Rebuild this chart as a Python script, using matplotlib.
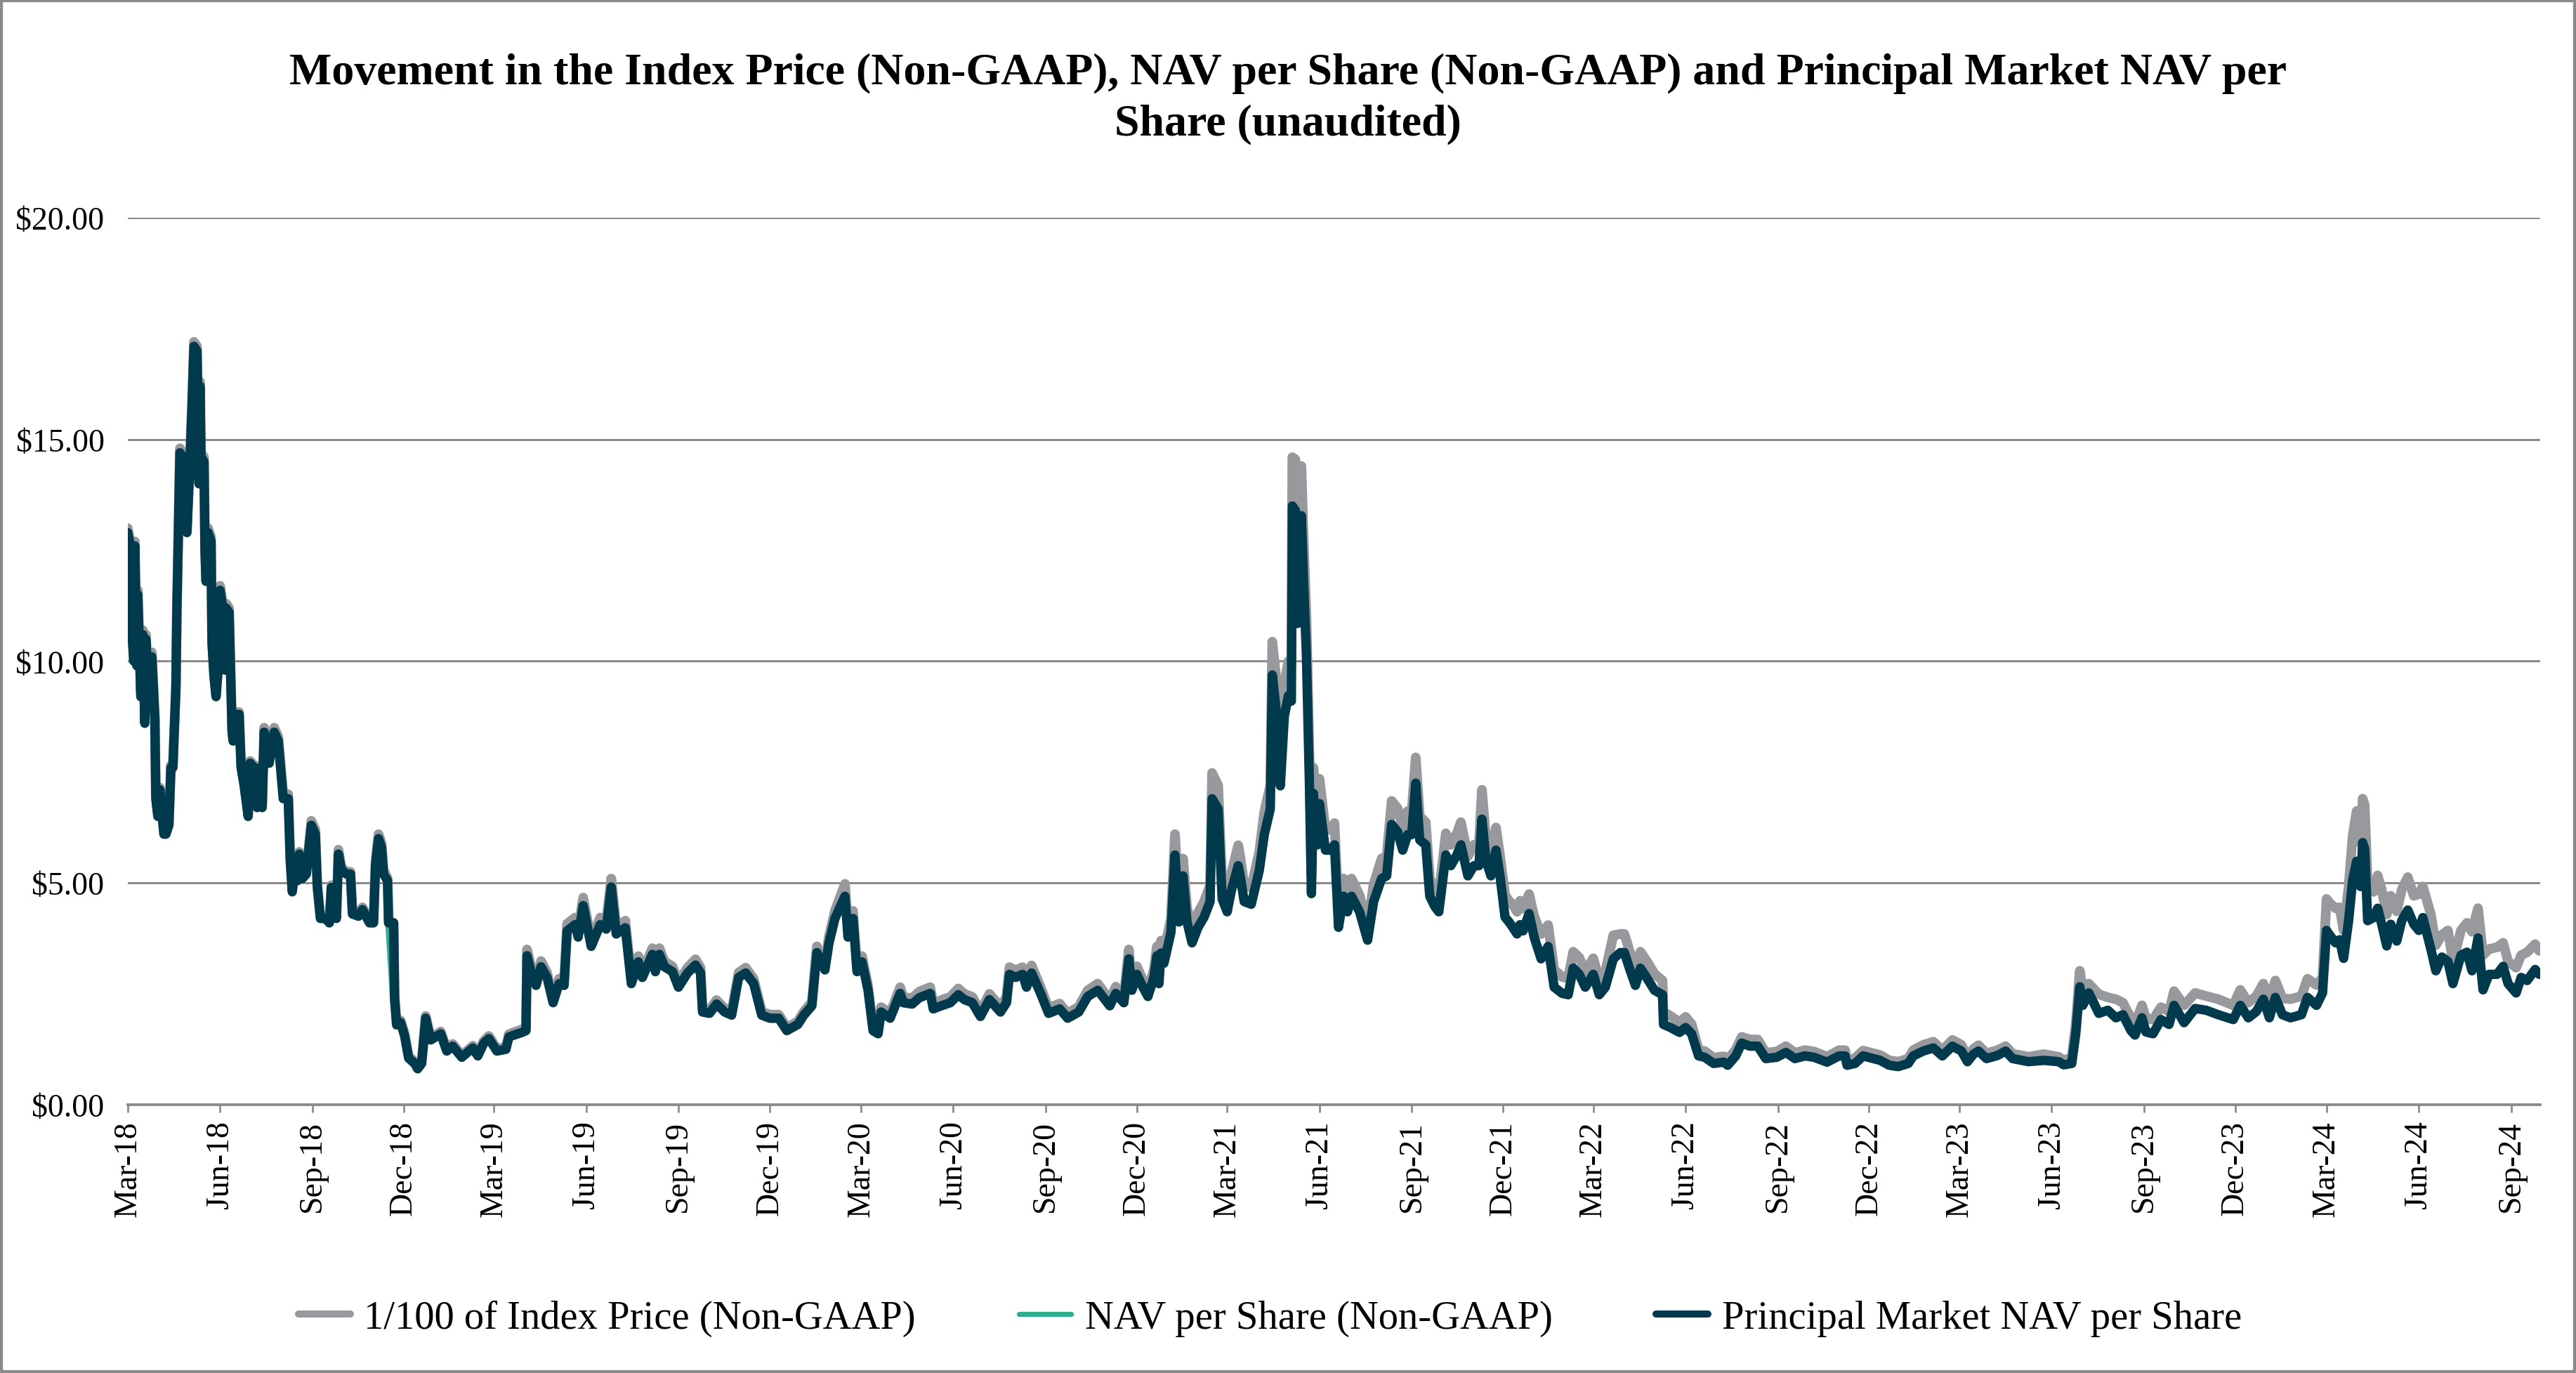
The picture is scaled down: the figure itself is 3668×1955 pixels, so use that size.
import matplotlib
matplotlib.use("Agg")
import matplotlib.pyplot as plt
import matplotlib.dates as mdates
from matplotlib.patches import Rectangle
import pandas as pd

plt.rcParams['font.family'] = ['Liberation Serif', 'DejaVu Serif']

START = "2018-03-01"

# days since START, principal market NAV per share, 1/100 of index price
days = [0, 3, 4, 6, 7, 9, 10, 13, 15, 17, 18, 21, 22, 24, 27, 28, 30, 32, 36, 38,
        41, 43, 45, 48, 49, 52, 55, 57, 59, 62, 64, 66, 69, 70, 71, 72, 73, 76, 77, 78,
        80, 83, 84, 86, 88, 90, 92, 94, 97, 98, 101, 104, 105, 107, 111, 113, 116, 120, 122, 126,
        129, 132, 134, 136, 141, 146, 150, 155, 160, 162, 164, 167, 169, 171, 174, 178, 183, 187, 189, 192,
        197, 201, 203, 208, 210, 213, 218, 222, 224, 230, 234, 241, 245, 247, 250, 253, 255, 259, 260, 265,
        266, 268, 272, 276, 280, 286, 289, 293,
        297, 302, 312, 318, 324, 333, 344, 349, 355, 360, 368, 377, 380, 393, 397, 398, 402, 407, 412, 418,
        424, 430, 435, 438, 446, 449, 454, 462, 471, 477, 482, 487, 496, 502, 509, 513, 523, 526, 530, 535,
        543, 549, 558, 566, 571, 573, 580, 587, 595, 602, 609, 616, 624, 632, 640, 649, 657, 668, 674, 682,
        687, 695, 699, 705, 715, 718, 723, 727, 732, 738, 743,
        748, 751, 760, 765, 770, 773, 782, 789, 800, 803, 811, 820, 828, 834, 842, 850, 859, 870, 876, 879,
        885, 892, 896, 901, 910, 918, 929, 937, 948, 957, 967, 979, 985, 993, 998, 1001, 1006, 1012, 1017, 1023,
        1026,
        1028, 1030, 1033, 1040, 1044, 1048, 1052, 1056, 1061, 1067, 1073, 1079, 1081, 1087, 1091, 1096, 1100, 1107, 1109, 1113,
        1120, 1128, 1133, 1139, 1141, 1145, 1149, 1153, 1157, 1160, 1161, 1164, 1166, 1170, 1172, 1175, 1178, 1180, 1182, 1186,
        1188, 1194, 1199, 1203, 1207, 1212, 1216, 1220, 1228, 1236, 1242, 1250, 1255, 1260, 1266, 1271, 1276, 1280, 1284, 1288,
        1294, 1298, 1303, 1307, 1314, 1319, 1325, 1329, 1336, 1342, 1347, 1350, 1354, 1359, 1364, 1368, 1373, 1377,
        1381, 1385, 1388, 1391, 1397, 1402, 1409, 1416, 1422, 1430, 1436, 1441, 1447, 1453, 1461, 1467, 1473, 1481, 1488, 1492,
        1497, 1503, 1508, 1516, 1522, 1530, 1531, 1538, 1547, 1553, 1559, 1566, 1572, 1581, 1591, 1595, 1603, 1609, 1617, 1625,
        1633, 1644, 1653, 1662, 1672, 1681, 1694, 1706, 1712, 1714, 1722, 1730, 1747, 1756, 1765, 1775, 1780, 1790, 1800, 1809,
        1819, 1828,
        1834, 1840, 1845, 1853, 1864, 1872, 1879, 1895, 1910, 1925, 1930, 1938, 1942, 1946, 1949, 1955, 1965, 1974, 1982, 1989,
        1997, 2001, 2008, 2012, 2019, 2027, 2035, 2040, 2050, 2061, 2072, 2084, 2099, 2106, 2114, 2122, 2129, 2135, 2141, 2148,
        2156, 2167, 2173, 2182, 2188, 2192, 2195, 2201, 2205, 2209, 2214, 2218, 2222, 2226, 2228, 2230, 2233, 2239, 2243, 2247,
        2252, 2256, 2262, 2267, 2273, 2279, 2284, 2288, 2296, 2301, 2307, 2313, 2318, 2326, 2332, 2337, 2343, 2348, 2354, 2362,
        2368, 2373, 2381, 2386, 2392, 2400, 2404]

principal = [12.9, 12.55, 10.7, 10.0, 12.6, 9.9, 11.5, 9.2, 10.6, 8.6, 10.5, 9.3, 9.6, 10.1, 8.7, 6.9, 6.5, 7.1, 6.1, 6.1,
             6.3, 7.6, 7.6, 9.4, 11.2, 14.7, 14.6, 13.0, 12.9, 14.5, 15.7, 17.1, 17.0, 15.7, 14.0, 16.2, 14.6, 14.5, 12.5, 11.8,
             12.9, 12.7, 10.4, 9.65, 9.2, 9.8, 11.6, 11.3, 9.8, 11.2, 11.1, 8.4, 8.2, 8.8, 8.8, 7.6, 7.2, 6.5, 7.7, 7.6,
             6.7, 7.6, 6.7, 8.4, 7.7, 8.4, 8.2, 6.9, 6.9, 5.5, 4.8, 5.5, 5.05, 5.65, 5.1, 5.2, 6.3, 6.1, 4.9, 4.2,
             4.2, 4.1, 4.9, 4.2, 5.65, 5.3, 5.2, 5.2, 4.3, 4.25, 4.4, 4.1, 4.1, 5.4, 6.0, 5.8, 5.2, 5.05, 4.1, 4.1,
             2.4, 1.8, 1.85, 1.55, 1.05, 0.93, 0.81, 0.93,
             1.95, 1.46, 1.6, 1.21, 1.32, 1.07, 1.28, 1.1, 1.39, 1.49, 1.21, 1.25, 1.53, 1.63, 1.67, 3.36, 3.0, 2.69, 3.11, 2.87,
             2.3, 2.73, 2.69, 3.92, 4.06, 3.78, 4.49, 3.57, 4.06, 3.96, 4.91, 3.85, 3.99, 2.73, 3.22, 2.87, 3.39, 3.0, 3.39, 3.11,
             3.0, 2.65, 2.97, 3.15, 2.97, 2.09, 2.06, 2.27, 2.09, 2.02, 2.87, 2.97, 2.73, 2.02, 1.95, 1.95, 1.67, 1.81, 2.02, 2.23,
             3.43, 3.04, 3.64, 4.2, 4.7, 3.78, 4.2, 3.0, 3.22, 2.58, 1.67,
             1.6, 2.09, 1.95, 2.23, 2.51, 2.3, 2.27, 2.41, 2.51, 2.16, 2.23, 2.3, 2.48, 2.37, 2.3, 1.99, 2.37, 2.09, 2.3, 2.94,
             2.87, 2.94, 2.65, 2.97, 2.51, 2.06, 2.16, 1.95, 2.09, 2.44, 2.58, 2.23, 2.51, 2.3, 3.29, 2.58, 2.94, 2.65, 2.44, 2.87,
             3.36,
             2.73, 3.42, 3.19, 3.89, 5.63, 4.12, 5.16, 4.12, 3.65, 4.0, 4.23, 4.58, 6.9, 6.67, 4.64, 4.35, 4.81, 5.39, 5.16, 4.58,
             4.52, 5.28, 6.09, 6.67, 9.69, 8.87, 7.19, 8.76, 9.22, 9.1, 13.5, 13.4, 10.85, 13.28, 11.9, 10.15, 7.25, 4.76, 7.02, 5.86,
             6.79, 5.74, 5.74, 5.86, 4.0, 4.7, 4.35, 4.7, 4.35, 3.71, 4.58, 5.1, 5.16, 6.32, 6.15, 5.74, 6.09, 6.09, 7.25, 5.97,
             5.86, 4.7, 4.47, 4.35, 5.63, 5.39, 5.63, 5.86, 5.16, 5.39, 5.39, 6.44, 5.51, 5.16, 5.74, 5.16, 4.23, 4.12,
             3.99, 3.85, 4.06, 3.92, 4.31, 3.78, 3.29, 3.57, 2.65, 2.51, 2.48, 3.08, 2.94, 2.65, 2.94, 2.48, 2.65, 3.29, 3.43, 3.43,
             3.08, 2.69, 3.08, 2.8, 2.58, 2.48, 1.81, 1.74, 1.63, 1.74, 1.6, 1.1, 1.07, 0.93, 0.96, 0.89, 1.1, 1.39, 1.32, 1.32,
             1.04, 1.07, 1.18, 1.04, 1.1, 1.07, 0.96, 1.1, 1.1, 0.89, 0.93, 1.1, 1.0, 0.89, 0.86, 0.93, 1.1, 1.21, 1.28, 1.1,
             1.32, 1.21,
             0.97, 1.14, 1.21, 1.04, 1.11, 1.21, 1.04, 0.97, 1.0, 0.97, 0.9, 0.93, 1.6, 2.66, 2.24, 2.52, 2.06, 2.13, 1.96, 2.03,
             1.67, 1.57, 1.96, 1.64, 1.6, 1.92, 1.81, 2.24, 1.85, 2.17, 2.13, 2.03, 1.92, 2.24, 1.96, 2.1, 2.38, 1.96, 2.42, 2.03,
             1.96, 2.03, 2.42, 2.24, 2.52, 3.93, 3.83, 3.65, 3.72, 3.3, 4.15, 5.06, 5.49, 4.92, 5.91, 5.77, 4.15, 4.22, 4.43, 4.07,
             3.58, 4.07, 3.69, 4.15, 4.39, 4.07, 3.93, 4.22, 3.51, 3.02, 3.33, 3.23, 2.73, 3.37, 3.44, 3.02, 3.76, 2.59, 2.94, 2.94,
             3.12, 2.73, 2.52, 2.87, 2.8, 3.05, 2.94]

index_price = [13.0, 12.6, 10.8, 10.1, 12.7, 10.0, 11.6, 9.3, 10.7, 8.7, 10.6, 9.35, 9.65, 10.2, 8.75, 6.95, 6.55, 7.15, 6.15, 6.15,
               6.35, 7.65, 7.65, 9.45, 11.25, 14.8, 14.7, 13.1, 13.0, 14.6, 15.8, 17.2, 17.1, 15.8, 14.1, 16.3, 14.7, 14.6, 12.6, 11.9,
               13.0, 12.8, 10.5, 9.7, 9.25, 9.85, 11.7, 11.4, 9.85, 11.3, 11.2, 8.45, 8.25, 8.85, 8.85, 7.65, 7.25, 6.55, 7.75, 7.65,
               6.75, 7.65, 6.75, 8.5, 7.8, 8.5, 8.3, 7.0, 7.0, 5.55, 4.85, 5.55, 5.1, 5.7, 5.15, 5.25, 6.4, 6.2, 4.95, 4.25,
               4.25, 4.15, 4.95, 4.25, 5.75, 5.35, 5.25, 5.25, 4.35, 4.3, 4.45, 4.15, 4.15, 5.5, 6.1, 5.9, 5.3, 5.1, 4.15, 4.1,
               2.45, 1.85, 1.9, 1.6, 1.1, 0.97, 0.85, 0.97,
               2.0, 1.5, 1.65, 1.25, 1.37, 1.11, 1.33, 1.14, 1.44, 1.55, 1.26, 1.3, 1.59, 1.7, 1.74, 3.5, 3.12, 2.8, 3.24, 2.98,
               2.39, 2.84, 2.8, 4.08, 4.22, 3.93, 4.67, 3.71, 4.22, 4.12, 5.1, 4.0, 4.15, 2.84, 3.35, 2.98, 3.53, 3.12, 3.53, 3.23,
               3.12, 2.76, 3.09, 3.28, 3.09, 2.17, 2.14, 2.36, 2.17, 2.1, 2.98, 3.09, 2.84, 2.1, 2.03, 2.03, 1.74, 1.88, 2.1, 2.32,
               3.57, 3.16, 3.79, 4.37, 4.98, 3.93, 4.37, 3.12, 3.35, 2.68, 1.74,
               1.68, 2.2, 2.06, 2.35, 2.65, 2.43, 2.4, 2.55, 2.65, 2.28, 2.36, 2.43, 2.62, 2.5, 2.43, 2.1, 2.5, 2.21, 2.43, 3.1,
               3.03, 3.1, 2.8, 3.14, 2.65, 2.18, 2.28, 2.06, 2.21, 2.58, 2.73, 2.36, 2.66, 2.44, 3.5, 2.74, 3.12, 2.81, 2.59, 3.05,
               3.57,
               2.95, 3.7, 3.45, 4.2, 6.1, 4.45, 5.55, 4.45, 3.95, 4.33, 4.58, 4.95, 7.48, 7.2, 5.0, 4.7, 5.2, 5.85, 5.6, 4.95,
               4.9, 5.7, 6.6, 7.2, 10.44, 9.6, 7.8, 9.5, 10.0, 9.9, 14.6, 14.55, 11.8, 14.4, 12.9, 11.0, 7.9, 5.2, 7.6, 6.35,
               7.35, 6.2, 6.2, 6.35, 4.35, 5.1, 4.72, 5.1, 4.72, 4.02, 4.97, 5.55, 5.6, 6.85, 6.68, 6.23, 6.62, 6.62, 7.83, 6.5,
               6.37, 5.1, 4.85, 4.72, 6.12, 5.86, 6.12, 6.37, 5.6, 5.86, 5.86, 7.1, 6.0, 5.62, 6.25, 5.62, 4.73, 4.6,
               4.5, 4.35, 4.6, 4.42, 4.75, 4.25, 3.85, 4.05, 3.05, 2.88, 2.85, 3.45, 3.32, 3.0, 3.3, 2.82, 3.0, 3.82, 3.85, 3.85,
               3.48, 3.08, 3.45, 3.18, 2.95, 2.8, 2.09, 2.0, 1.86, 1.98, 1.82, 1.24, 1.21, 1.06, 1.09, 1.02, 1.24, 1.53, 1.47, 1.47,
               1.17, 1.2, 1.32, 1.17, 1.23, 1.2, 1.08, 1.23, 1.23, 1.0, 1.05, 1.22, 1.12, 1.0, 0.97, 1.04, 1.23, 1.35, 1.42, 1.23,
               1.46, 1.35,
               1.07, 1.26, 1.34, 1.16, 1.23, 1.32, 1.15, 1.08, 1.14, 1.08, 1.0, 1.07, 1.8, 3.02, 2.6, 2.73, 2.49, 2.42, 2.38, 2.3,
               1.95, 1.81, 2.24, 1.95, 1.92, 2.2, 2.1, 2.56, 2.24, 2.52, 2.45, 2.38, 2.24, 2.59, 2.3, 2.45, 2.73, 2.35, 2.8, 2.4,
               2.38, 2.45, 2.84, 2.7, 2.87, 4.64, 4.55, 4.43, 4.45, 3.93, 4.9, 6.05, 6.62, 5.9, 6.9, 6.76, 5.0, 4.8, 5.17, 4.85,
               4.29, 4.71, 4.36, 4.85, 5.13, 4.71, 4.75, 4.92, 4.29, 3.6, 3.83, 3.93, 3.23, 3.93, 4.1, 3.9, 4.43, 3.37, 3.51, 3.55,
               3.65, 3.23, 3.09, 3.37, 3.44, 3.62, 3.47]

# NAV per share sits on top of the principal market line except at the Nov-18 drop
nav_per_share = list(principal)
nav_per_share[days.index(265)] = 2.3

dates = pd.Timestamp(START) + pd.to_timedelta(days, unit="D")

GRAY = "#97999c"
GREEN = "#2bb08f"
NAVY = "#003a4c"

fig = plt.figure(figsize=(18.34, 9.78), dpi=200)
ax = fig.add_axes([0.0496, 0.1953, 0.9365, 0.6457])

ax.plot(dates, index_price, color=GRAY, lw=5.0, solid_capstyle="round", solid_joinstyle="round",
        label="1/100 of Index Price (Non-GAAP)")
ax.plot(dates, nav_per_share, color=GREEN, lw=3.4, solid_capstyle="round", solid_joinstyle="round",
        label="NAV per Share (Non-GAAP)")
ax.plot(dates, principal, color=NAVY, lw=4.8, solid_capstyle="round", solid_joinstyle="round",
        label="Principal Market NAV per Share")

ax.set_ylim(0, 20)
ax.set_yticks([0, 5, 10, 15, 20])
ax.set_yticklabels([f"${v:.2f}" for v in [0, 5, 10, 15, 20]], fontsize=16.5)
ax.set_xlim(pd.Timestamp("2018-03-01"), pd.Timestamp("2024-09-30"))
ax.xaxis.set_major_locator(mdates.MonthLocator(bymonth=[3, 6, 9, 12]))
ax.xaxis.set_major_formatter(mdates.DateFormatter("%b-%y"))
plt.setp(ax.get_xticklabels(), rotation=90, fontsize=16.5)

ax.grid(axis="y", color="#8c8c8c", lw=1.1)
ax.set_axisbelow(True)
for s in ["top", "right", "left"]:
    ax.spines[s].set_visible(False)
ax.spines["bottom"].set_color("#8c8c8c")
ax.spines["bottom"].set_linewidth(1.4)
ax.tick_params(axis="y", length=0, pad=12)
ax.tick_params(axis="x", length=4, width=1.0, color="#8c8c8c", pad=4)

fig.text(0.5, 0.928, "Movement in the Index Price (Non-GAAP), NAV per Share (Non-GAAP) and Principal Market NAV per\nShare (unaudited)",
         ha="center", va="center", fontsize=23, fontweight="bold", linespacing=1.33)

leg = fig.legend(loc="center", bbox_to_anchor=(0.493, 0.040), ncol=3, frameon=False, fontsize=20.4,
                 handlelength=1.3, handletextpad=0.35, columnspacing=2.6)
for line, w in zip(leg.get_lines(), [3.6, 2.6, 3.6]):
    line.set_linewidth(w)

fig.patches.append(Rectangle((0, 0), 1, 1, transform=fig.transFigure, fill=False,
                             edgecolor="#8a8a8a", lw=3))

fig.savefig("out.png", dpi=200, facecolor="white")
